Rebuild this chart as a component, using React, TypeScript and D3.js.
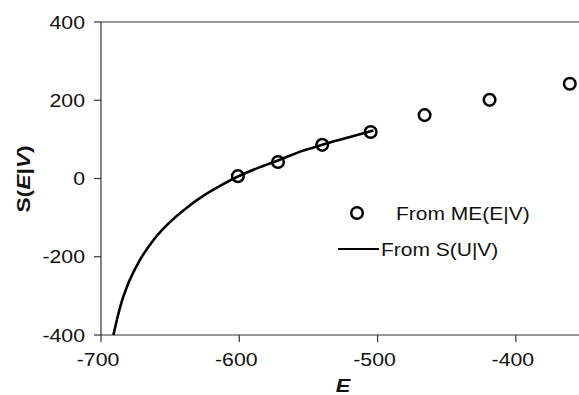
import React from "react";
import * as d3 from "d3";

const pointE = [-601, -572, -540, -505, -466, -419, -361];
const pointS = [6, 42, 86, 119, 162, 201, 242];

const curveE = [-691, -688, -685, -680, -672, -662, -650, -637, -625, -612, -601, -585, -572, -555, -540, -520, -503];
const curveS = [-400, -354, -315, -266, -209, -157, -111, -72, -42, -15, 5, 29, 46, 70, 86, 106, 123];

const xTicks = [-700, -600, -500, -400];
const yTicks = [-400, -200, 0, 200, 400];

const W = 579;
const H = 395;
const FONT = "'Liberation Sans', Arial, sans-serif";

export default function App() {
  const x = d3.scaleLinear().domain([-700, -350]).range([101, 585]);
  const y = d3.scaleLinear().domain([-400, 400]).range([335, 22]);
  const line = d3
    .line<number>()
    .x((_, i) => x(curveE[i]))
    .y((_, i) => y(curveS[i]))
    .curve(d3.curveMonotoneX);
  const sx = 1.15;
  const tickFs = 18.5;

  return (
    <svg
      width={W}
      height={H}
      style={{ position: "absolute", left: 0, top: 0, background: "#fff" }}
      fontFamily={FONT}
    >
      {/* frame lines */}
      <line x1={x(-700)} x2={W} y1={y(400)} y2={y(400)} stroke="#333" strokeWidth={1.2} />
      <line x1={x(-700)} x2={x(-700)} y1={y(400)} y2={y(-400)} stroke="#333" strokeWidth={1.2} />
      <line x1={x(-700)} x2={W} y1={y(-400)} y2={y(-400)} stroke="#333" strokeWidth={1.2} />
      {yTicks.map((t) => (
        <g key={"y" + t}>
          <line x1={x(-700) - 7} x2={x(-700)} y1={y(t)} y2={y(t)} stroke="#333" strokeWidth={1.2} />
          <text
            transform={`translate(${x(-700) - 16},${y(t) + 6.5}) scale(${sx},1)`}
            textAnchor="end"
            fontSize={tickFs}
            fill="#111"
          >
            {t}
          </text>
        </g>
      ))}
      {xTicks.map((t) => (
        <g key={"x" + t}>
          <line x1={x(t)} x2={x(t)} y1={y(-400)} y2={y(-400) + 7} stroke="#333" strokeWidth={1.2} />
          <text
            transform={`translate(${x(t) - 3},${y(-400) + 31}) scale(${sx},1)`}
            textAnchor="middle"
            fontSize={tickFs}
            fill="#111"
          >
            {t}
          </text>
        </g>
      ))}
      {/* axis titles */}
      <text
        transform={`translate(${343},${392}) scale(${sx},1)`}
        textAnchor="middle"
        fontSize={19}
        fontWeight="bold"
        fontStyle="italic"
        fill="#111"
      >
        E
      </text>
      <text
        transform={`translate(${30},${179}) rotate(-90) scale(1.2,1)`}
        textAnchor="middle"
        fontSize={19}
        fontWeight="bold"
        fill="#111"
      >
        S(<tspan fontStyle="italic">E</tspan>|<tspan fontStyle="italic">V</tspan>)
      </text>

      {/* curve */}
      <path d={line(curveE) || ""} fill="none" stroke="#000" strokeWidth={2.6} />
      {/* points */}
      {pointE.map((e, i) => (
        <circle key={i} cx={x(e)} cy={y(pointS[i])} r={5.8} fill="none" stroke="#000" strokeWidth={2.5} />
      ))}

      {/* legend */}
      <circle cx={357} cy={213} r={5.8} fill="none" stroke="#000" strokeWidth={2.5} />
      <text transform={`translate(396,220) scale(1.2,1)`} fontSize={17.5} fill="#111">
        From ME(E|V)
      </text>
      <line x1={338} x2={379} y1={249} y2={249} stroke="#000" strokeWidth={2} />
      <text transform={`translate(381,256) scale(1.2,1)`} fontSize={17.5} fill="#111">
        From S(U|V)
      </text>
    </svg>
  );
}
